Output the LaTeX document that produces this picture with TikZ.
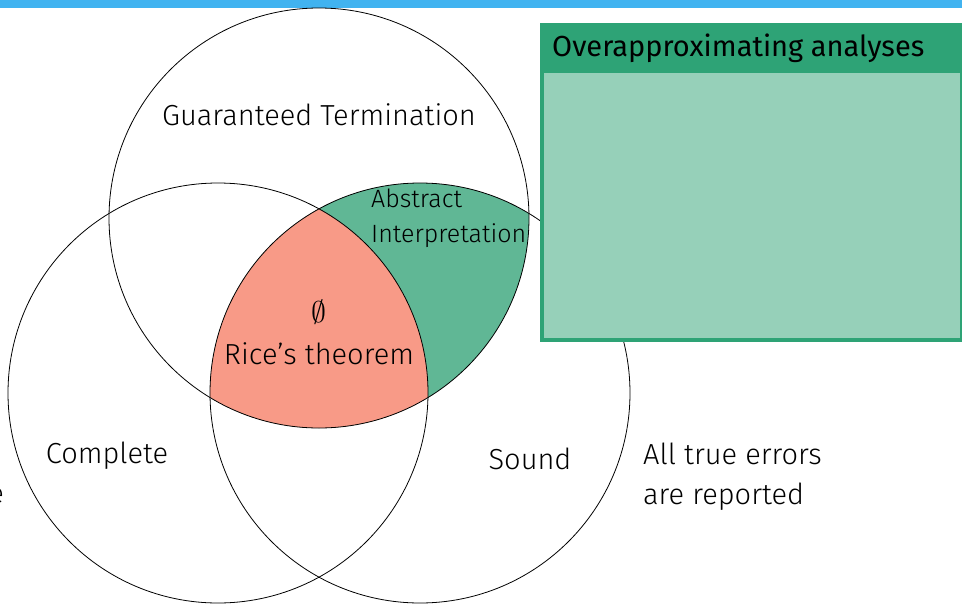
\documentclass[tikz,border=0pt]{standalone}
\usepackage{fontspec}
\setmainfont{Fira Sans}[UprightFont=* Light]
\newfontfamily\regularfont{Fira Sans}
\definecolor{barblue}{HTML}{41B3F0}
\definecolor{ricered}{HTML}{F89A87}
\definecolor{aigreen}{HTML}{60B795}
\definecolor{boxdark}{HTML}{2EA376}
\definecolor{boxlight}{HTML}{96D0B9}
\tikzset{
  setcircle/.style={draw=black, line width=0.8pt},
  biglabel/.style={font=\fontsize{29}{34}\selectfont, inner sep=0pt},
  smalllabel/.style={font=\fontsize{25}{35}\selectfont, inner sep=0pt, align=left},
}
\begin{document}
\begin{tikzpicture}[x=1pt,y=-1pt]
\useasboundingbox (0,0) rectangle (962,603);
% top bar
\fill[barblue] (0,0) rectangle (962,8);
% set centres
\coordinate (T) at (319,218);
\coordinate (L) at (218,393);
\coordinate (R) at (420,393);
% terminating and sound
\begin{scope}
  \clip (T) circle (210);
  \fill[aigreen] (R) circle (210);
\end{scope}
% all three properties
\begin{scope}
  \clip (T) circle (210);
  \clip (L) circle (210);
  \fill[ricered] (R) circle (210);
\end{scope}
% outlines
\draw[setcircle] (T) circle (210);
\draw[setcircle] (L) circle (210);
\draw[setcircle] (R) circle (210);
% labels
\node[biglabel] (term) at (319,115) {Guaranteed Termination};
\node[smalllabel, anchor=west] (absint) at (371,218) {Abstract\\Interpretation};
\node[biglabel, scale=1.2] (empty) at (319,312) {$\emptyset$};
\node[biglabel] (rice) at (319,354) {Rice’s theorem};
\node[biglabel] (complete) at (107,456) {Complete};
\node[biglabel] (sound) at (530,459) {Sound};
\node[biglabel, anchor=west, align=left, font=\fontsize{29}{40}\selectfont] (errors) at (643,477) {All true errors\\are reported};
\node[biglabel, anchor=east] (cut) at (4,496) {e};
% analyses box
\fill[boxdark] (540,23) rectangle (964,342);
\fill[boxlight] (544,73) rectangle (960,338);
\node[biglabel, anchor=west, font=\regularfont\fontsize{29}{34}\selectfont] (boxtitle) at (552,48) {Overapproximating analyses};
\end{tikzpicture}
\end{document}
